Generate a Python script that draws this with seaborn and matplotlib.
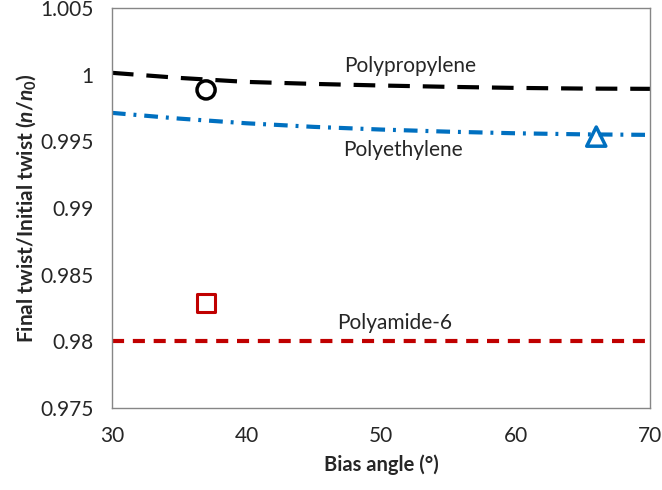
import matplotlib
matplotlib.use("Agg")
import matplotlib.pyplot as plt
import seaborn as sns
import pandas as pd

# model curves
angle = [30, 35, 40, 45, 50, 55, 60, 65, 70]
pp_model = [1.00013, 0.99975, 0.99945, 0.99930, 0.99918, 0.99908, 0.99900, 0.99895, 0.99893]
pe_model = [0.99713, 0.99670, 0.99635, 0.99608, 0.99588, 0.99572, 0.99560, 0.99552, 0.99548]
pa_model = [0.98, 0.98, 0.98, 0.98, 0.98, 0.98, 0.98, 0.98, 0.98]

# experimental points
pp_exp_x, pp_exp_y = [37], [0.99885]
pe_exp_x, pe_exp_y = [66], [0.99535]
pa_exp_x, pa_exp_y = [37], [0.98285]

sns.set_style("white")
plt.rcParams["font.family"] = ["Lato", "DejaVu Sans"]
plt.rcParams["mathtext.fontset"] = "custom"
plt.rcParams["mathtext.it"] = "Lato:italic:bold"
plt.rcParams["mathtext.rm"] = "Lato:bold"

fig = plt.figure(figsize=(6.62, 4.9), dpi=100)
ax = fig.add_axes([0.169, 0.167, 0.813, 0.817])

df = pd.DataFrame({"angle": angle, "pp": pp_model, "pe": pe_model, "pa": pa_model})

black = "#000000"
blue = "#0070C0"
red = "#C00000"

sns.lineplot(data=df, x="angle", y="pp", ax=ax, color=black, linewidth=3)
sns.lineplot(data=df, x="angle", y="pe", ax=ax, color=blue, linewidth=3)
sns.lineplot(data=df, x="angle", y="pa", ax=ax, color=red, linewidth=3)
lines = ax.get_lines()
lines[0].set_dashes([5.2, 3.1])
lines[1].set_dashes([3.3, 1.9, 0.7, 1.9])
lines[2].set_dashes([2.9, 2.1])

sns.scatterplot(x=pp_exp_x, y=pp_exp_y, ax=ax, marker="o", s=170,
                facecolors="none", edgecolor=black, linewidth=2.5)
sns.scatterplot(x=pe_exp_x, y=pe_exp_y, ax=ax, marker="^", s=190,
                facecolors="none", edgecolor=blue, linewidth=2.5)
sns.scatterplot(x=pa_exp_x, y=pa_exp_y, ax=ax, marker="s", s=170,
                facecolors="none", edgecolor=red, linewidth=2.2)

ax.text(52.2, 1.00065, "Polypropylene", fontsize=15, ha="center", va="center")
ax.text(51.6, 0.99435, "Polyethylene", fontsize=15, ha="center", va="center")
ax.text(51.0, 0.98138, "Polyamide-6", fontsize=15, ha="center", va="center")

ax.set_xlim(30, 70)
ax.set_ylim(0.975, 1.005)
ax.set_xticks([30, 40, 50, 60, 70])
ax.set_yticks([0.975, 0.98, 0.985, 0.99, 0.995, 1.0, 1.005])
ax.set_yticklabels(["0.975", "0.98", "0.985", "0.99", "0.995", "1", "1.005"])
ax.tick_params(axis="y", labelsize=15, length=0, pad=13)
ax.tick_params(axis="x", labelsize=15, length=0, pad=13)

ax.set_xlabel("Bias angle (°)", fontsize=14.5, fontweight="bold", labelpad=6)
ax.set_ylabel("Final twist/Initial twist ($\\mathit{n/n_0}$)",
              fontsize=15, fontweight="bold", labelpad=2)

for s in ax.spines.values():
    s.set_color("#868686")
    s.set_linewidth(1)

fig.savefig("out.png", dpi=100)
